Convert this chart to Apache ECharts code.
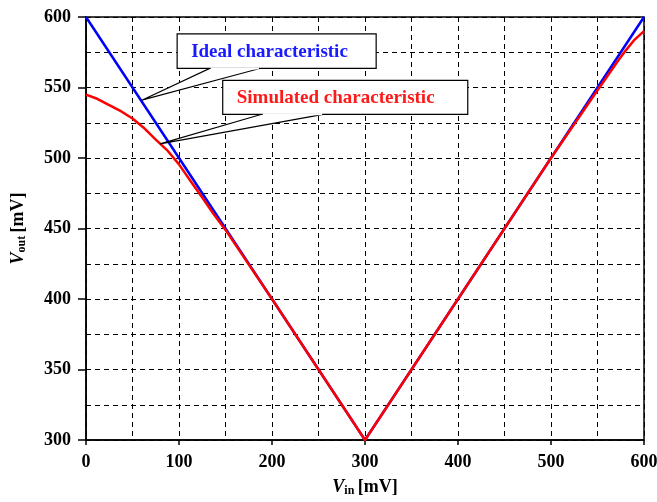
<!DOCTYPE html>
<html>
<head>
<meta charset="utf-8">
<script src="https://cdn.jsdelivr.net/npm/echarts@6/dist/echarts.min.js"></script>
<style>
html,body{margin:0;padding:0;background:#fff;}
#c{width:657px;height:502px;}
</style>
</head>
<body>
<div id="c"></div>
<script>
// Data (mV)
const idealX = [0, 300, 600];
const idealY = [600, 300, 600];
const simX = [0, 12, 25, 38, 50, 62, 75, 88, 100, 112, 125, 137, 150, 200, 250, 300, 350, 400, 450, 500, 550, 560, 570, 580, 590, 600];
const simY = [545, 542, 537.5, 533, 528, 521.5, 513, 505, 495.5, 484, 472, 460.5, 449, 400, 350, 300, 350, 400, 450, 500, 548, 557.5, 567, 576, 584, 590];
const xTicks = [0, 100, 200, 300, 400, 500, 600];
const yTicks = [300, 350, 400, 450, 500, 550, 600];
const ideal = idealX.map((x, i) => [x, idealY[i]]);
const sim = simX.map((x, i) => [x, simY[i]]);

// Annotation anchors (data coordinates)
const idealBox = {x0: 98, x1: 312, y0: 588, y1: 563.5, label: 'Ideal characteristic', color: '#1a1aff', wedge: [133, 187], tip: [60, 541]};
const simBox = {x0: 147, x1: 410.5, y0: 555, y1: 531, label: 'Simulated characteristic', color: '#ff1a1a', wedge: [189, 255], tip: [79.6, 510]};

const font = '"Liberation Serif", "Times New Roman", serif';
const chart = echarts.init(document.getElementById('c'), null, {renderer: 'canvas'});
const dash = {color: '#000', width: 1, type: [5, 4]};

chart.setOption({
  animation: false,
  grid: {left: 86, right: 13, top: 17, bottom: 62, containLabel: false, outerBoundsMode: 'none', show: true, borderColor: '#000', borderWidth: 1.5, backgroundColor: 'transparent'},
  xAxis: {
    type: 'value', min: xTicks[0], max: xTicks[xTicks.length - 1], interval: 100,
    axisLine: {onZero: false, lineStyle: {color: '#000', width: 1.5}},
    axisTick: {show: true, length: 5, lineStyle: {color: '#000', width: 1.5}},
    minorTick: {show: false, splitNumber: 2},
    splitLine: {show: true, lineStyle: dash},
    minorSplitLine: {show: true, lineStyle: dash},
    axisLabel: {color: '#000', fontFamily: font, fontWeight: 'bold', fontSize: 18, margin: 13},
    name: '{i|V}{s|in} {b|[mV]}', nameLocation: 'middle', nameGap: 37,
    nameTextStyle: {rich: {
      i: {fontFamily: font, fontStyle: 'italic', fontWeight: 'bold', fontSize: 18, color: '#000'},
      s: {fontFamily: font, fontWeight: 'bold', fontSize: 12, color: '#000', verticalAlign: 'bottom', padding: [8, 0, 0, 0]},
      b: {fontFamily: font, fontWeight: 'bold', fontSize: 18, color: '#000'}
    }}
  },
  yAxis: {
    type: 'value', min: yTicks[0], max: yTicks[yTicks.length - 1], interval: 50,
    axisLine: {show: true, onZero: false, lineStyle: {color: '#000', width: 1.5}},
    axisTick: {show: true, length: 8, lineStyle: {color: '#000', width: 1.5}},
    minorTick: {show: false, splitNumber: 2},
    splitLine: {show: true, lineStyle: dash},
    minorSplitLine: {show: true, lineStyle: dash},
    axisLabel: {color: '#000', fontFamily: font, fontWeight: 'bold', fontSize: 18, margin: 15},
    name: '{i|V}{s|out} {b|[mV]}', nameLocation: 'middle', nameGap: 58, nameRotate: 90,
    nameTextStyle: {rich: {
      i: {fontFamily: font, fontStyle: 'italic', fontWeight: 'bold', fontSize: 18, color: '#000'},
      s: {fontFamily: font, fontWeight: 'bold', fontSize: 12, color: '#000', verticalAlign: 'bottom', padding: [8, 0, 0, 0]},
      b: {fontFamily: font, fontWeight: 'bold', fontSize: 18, color: '#000'}
    }}
  },
  series: [
    {type: 'line', data: ideal, showSymbol: false, lineStyle: {color: '#0000ff', width: 2.5}, z: 3},
    {type: 'line', data: sim, showSymbol: false, lineStyle: {color: '#ff0000', width: 2.5, join: 'round'}, z: 4}
  ]
});

function callout(b) {
  const p = (x, y) => chart.convertToPixel({gridIndex: 0}, [x, y]);
  const a = p(b.x0, b.y0), c = p(b.x1, b.y1);
  const w1 = p(b.wedge[0], b.y1), w2 = p(b.wedge[1], b.y1), t = p(b.tip[0], b.tip[1]);
  return [
    {type: 'polygon', z: 100, shape: {points: [w1, w2, t]}, style: {fill: '#fff', stroke: '#000', lineWidth: 1.2}},
    {type: 'rect', z: 101, shape: {x: a[0], y: a[1], width: c[0] - a[0], height: c[1] - a[1]}, style: {fill: '#fff', stroke: '#000', lineWidth: 1.2}},
    {type: 'rect', z: 102, shape: {x: w1[0] + 1, y: c[1] - 1, width: w2[0] - w1[0] - 2, height: 2}, style: {fill: '#fff'}},
    {type: 'text', z: 103, x: a[0] + 14, y: (a[1] + c[1]) / 2 + 1, style: {text: b.label, fill: b.color, font: 'bold 19px ' + font, align: 'left', verticalAlign: 'middle'}}
  ];
}
chart.setOption({graphic: callout(idealBox).concat(callout(simBox))});
</script>
</body>
</html>
